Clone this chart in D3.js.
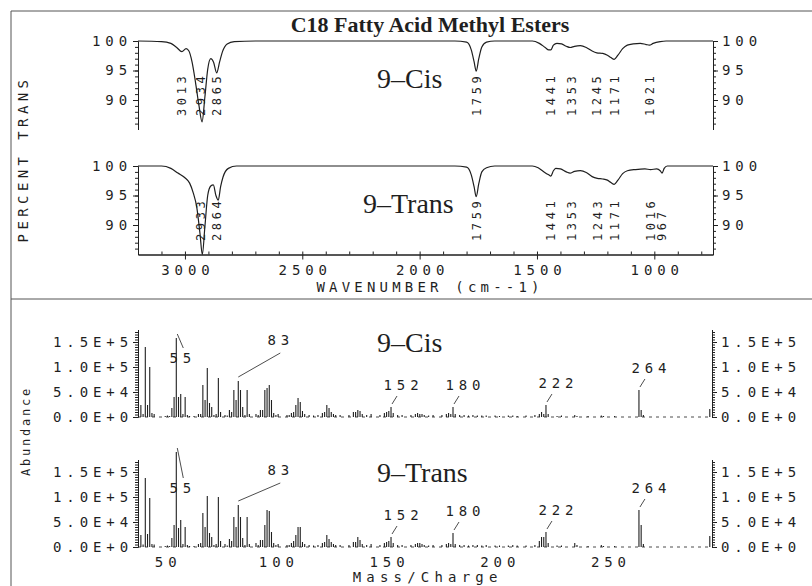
<!DOCTYPE html>
<html lang="en">
<head>
<meta charset="UTF-8">
<title>C18 Fatty Acid Methyl Esters</title>
<script src="https://cdnjs.cloudflare.com/ajax/libs/d3/7.8.5/d3.min.js"></script>
<style>
    body { margin: 0; background: #fff; }
    svg { display: block; }
</style>
</head>
<body>
<svg id="chart" width="812" height="586"></svg>
<script>
// ---- IR spectra (wavenumber, % transmittance) ----
const irCisWavenumber = [3200, 3100, 3060, 3035, 3013, 2995, 2983, 2970, 2955, 2940,
    2927, 2915, 2903, 2890, 2878, 2865, 2852, 2840, 2820, 2790,
    2700, 1850, 1800, 1780, 1768, 1759, 1748, 1735, 1715, 1680,
    1520, 1490, 1465, 1450, 1441, 1430, 1415, 1395, 1375, 1359,
    1340, 1315, 1290, 1265, 1245, 1220, 1200, 1185, 1171, 1155,
    1135, 1115, 1090, 1060, 1035, 1021, 1005, 975, 950, 750];
const irCisTransmittance = [100, 99.9, 99.6, 98.9, 98.2, 98.7, 98.3, 96.5, 93, 89,
    86.3, 90.5, 95.2, 97.0, 96.4, 94.6, 96.5, 98.2, 99.5, 99.9,
    100, 100, 99.8, 98.5, 96.5, 94.9, 97.0, 99.0, 99.8, 100,
    100, 99.6, 98.9, 98.5, 98.5, 99.3, 99.6, 99.5, 99.1, 98.9,
    99.1, 99.2, 98.9, 98.3, 98.0, 97.9, 97.6, 97.2, 96.9, 97.6,
    98.7, 99.3, 99.5, 99.6, 99.4, 99.3, 99.6, 99.9, 100, 100];

const irTransWavenumber = [3200, 3100, 3060, 3030, 3000, 2980, 2965, 2950, 2936, 2926,
    2915, 2903, 2890, 2879, 2868, 2858, 2848, 2838, 2815, 2780,
    1850, 1800, 1780, 1768, 1759, 1748, 1735, 1715, 1680, 1520,
    1495, 1470, 1450, 1441, 1430, 1420, 1400, 1375, 1359, 1340,
    1315, 1290, 1265, 1243, 1220, 1200, 1185, 1171, 1155, 1135,
    1115, 1080, 1040, 1016, 990, 975, 967, 958, 945, 750];
const irTransTransmittance = [100, 100, 99.6, 98.8, 98.0, 97.1, 95.5, 93.1, 88.6, 85.0,
    89.7, 95.0, 96.6, 96.8, 95.0, 94.2, 96.5, 98.1, 99.6, 100,
    100, 99.8, 98.5, 96.5, 94.8, 97.0, 99.0, 99.7, 100, 100,
    99.7, 99.0, 98.5, 98.3, 99.2, 99.6, 99.5, 99.0, 98.8, 99.1,
    99.2, 98.9, 98.2, 97.9, 97.8, 97.6, 97.2, 96.9, 97.6, 98.7,
    99.2, 99.4, 99.5, 99.4, 99.5, 99.2, 98.8, 99.6, 100, 100];

const irCisPeaks = [3013, 2934, 2865, 1759, 1441, 1353, 1245, 1171, 1021];
const irTransPeaks = [2933, 2864, 1759, 1441, 1353, 1243, 1171, 1016, 967];

const irYTicks = [90, 95, 100];
const irXTicks = [3000, 2500, 2000, 1500, 1000];

// ---- mass spectra (m/z, abundance) ----
const msMass = [39, 40, 41, 42, 43, 44, 45, 50, 51, 52,
    53, 54, 55, 56, 57, 58, 59, 60, 61, 63,
    65, 66, 67, 68, 69, 70, 71, 72, 73, 74,
    75, 77, 78, 79, 80, 81, 82, 83, 84, 85,
    86, 87, 88, 91, 92, 93, 94, 95, 96, 97,
    98, 99, 100, 101, 105, 106, 107, 108, 109, 110,
    111, 112, 113, 115, 117, 119, 121, 122, 123, 124,
    125, 126, 127, 129, 133, 135, 136, 137, 138, 139,
    141, 143, 147, 149, 150, 151, 152, 153, 155, 157,
    161, 163, 164, 165, 166, 167, 169, 171, 175, 177,
    178, 179, 180, 181, 183, 185, 187, 189, 191, 193,
    195, 199, 201, 205, 207, 209, 213, 217, 219, 220,
    221, 222, 223, 227, 229, 235, 236, 241, 247, 248,
    253, 264, 265, 266, 296];
const msCisAbundance = [24000, 6000, 140000, 24000, 100000, 8000, 6000, 2000, 3000, 2000,
    18000, 40000, 158000, 40000, 46000, 6000, 40000, 4000, 2000, 2000,
    6000, 6000, 64000, 34000, 98000, 28000, 20000, 4000, 6000, 78000,
    10000, 4000, 3000, 14000, 10000, 54000, 34000, 72000, 54000, 20000,
    4000, 54000, 6000, 6000, 4000, 14000, 14000, 54000, 58000, 64000,
    34000, 8000, 4000, 6000, 4000, 4000, 8000, 10000, 24000, 38000,
    30000, 12000, 6000, 4000, 3000, 4000, 8000, 10000, 24000, 18000,
    10000, 6000, 4000, 4000, 4000, 10000, 10000, 14000, 12000, 6000,
    4000, 6000, 4000, 8000, 10000, 12000, 20000, 8000, 4000, 4000,
    4000, 6000, 8000, 6000, 6000, 4000, 3000, 4000, 4000, 6000,
    8000, 6000, 20000, 6000, 4000, 4000, 3000, 4000, 3000, 3000,
    3000, 3000, 2000, 3000, 3000, 2000, 3000, 4000, 6000, 10000,
    6000, 24000, 6000, 2000, 3000, 4000, 2000, 2000, 3000, 2000,
    2000, 54000, 14000, 4000, 16000];
const msTransAbundance = [24000, 5000, 138000, 26000, 98000, 6000, 5000, 2000, 3000, 2000,
    18000, 44000, 190000, 38000, 54000, 6000, 40000, 4000, 2000, 2000,
    6000, 8000, 68000, 40000, 102000, 28000, 20000, 4000, 6000, 100000,
    12000, 6000, 3000, 16000, 12000, 60000, 40000, 84000, 60000, 18000,
    4000, 60000, 6000, 8000, 4000, 14000, 14000, 44000, 74000, 72000,
    30000, 8000, 4000, 6000, 4000, 4000, 8000, 12000, 24000, 40000,
    40000, 10000, 6000, 4000, 3000, 4000, 8000, 10000, 24000, 16000,
    10000, 6000, 4000, 4000, 4000, 10000, 10000, 20000, 14000, 6000,
    4000, 6000, 4000, 8000, 10000, 12000, 20000, 8000, 4000, 4000,
    4000, 6000, 8000, 8000, 6000, 4000, 3000, 4000, 4000, 6000,
    8000, 6000, 28000, 6000, 4000, 4000, 3000, 4000, 4000, 3000,
    4000, 3000, 3000, 3000, 4000, 3000, 3000, 4000, 12000, 20000,
    20000, 30000, 8000, 3000, 3000, 8000, 4000, 2000, 4000, 2000,
    2000, 74000, 44000, 6000, 22000];

const msLabelMasses = [55, 83, 152, 180, 222, 264];
const msYTicks = [0, 50000, 100000, 150000];
const msYTickLabels = ["0.0E+0", "5.0E+4", "1.0E+5", "1.5E+5"];
const msXTicks = [50, 100, 150, 200, 250];

// ---- drawing ----
const svg = d3.select("#chart");
const ink = "#1f1f1f";
const plotFont = "'DejaVu Sans Mono', monospace";
const serif = "'Liberation Serif', 'Times New Roman', serif";
const FS = 14;    // plotter font size
const SP = 4.9;   // plotter letter spacing

// page frame + divider
const frame = svg.append("g").attr("stroke", "#555").attr("stroke-width", 1);
frame.append("line").attr("x1", 11).attr("y1", 11).attr("x2", 812).attr("y2", 11);
frame.append("line").attr("x1", 11).attr("y1", 11).attr("x2", 11).attr("y2", 586);
frame.append("line").attr("x1", 11).attr("y1", 299).attr("x2", 812).attr("y2", 299);

svg.append("text")
    .attr("x", 430).attr("y", 32)
    .attr("text-anchor", "middle")
    .attr("font-family", serif).attr("font-weight", "bold").attr("font-size", 22)
    .attr("fill", ink)
    .text("C18 Fatty Acid Methyl Esters");

function styleAxis(g, size, spacing) {
    g.attr("font-family", plotFont).attr("font-size", size);
    g.selectAll("text").attr("fill", ink).attr("letter-spacing", spacing);
    g.selectAll("line, path").attr("stroke", ink);
}

function plotText(x, y, txt, size, spacing, anchor) {
    return svg.append("text")
        .attr("x", x).attr("y", y)
        .attr("text-anchor", anchor || "middle")
        .attr("dx", anchor === "start" ? 0 : spacing / 2)
        .attr("font-family", plotFont).attr("font-size", size)
        .attr("letter-spacing", spacing)
        .attr("fill", ink)
        .text(txt);
}

// ---- IR ----
const irX = d3.scaleLinear().domain([3200, 750]).range([138, 713]);

function drawIR(top, wn, tr, peaks, name, nameX, withXAxis) {
    const y = d3.scaleLinear().domain([85, 100]).range([top + 88.5, top]);
    const g = svg.append("g");

    // minor + major ticks, left and right
    g.append("g").attr("transform", "translate(138,0)")
        .call(d3.axisLeft(y).tickValues(d3.range(86, 100)).tickSize(3).tickFormat("").tickSizeOuter(0))
        .call(a => styleAxis(a, FS, SP));
    g.append("g").attr("transform", "translate(138,0)")
        .call(d3.axisLeft(y).tickValues(irYTicks).tickSize(5).tickPadding(1).tickSizeOuter(0))
        .call(a => styleAxis(a, FS, SP));
    g.append("g").attr("transform", "translate(713,0)")
        .call(d3.axisRight(y).tickValues(d3.range(86, 100)).tickSize(3).tickFormat("").tickSizeOuter(0))
        .call(a => styleAxis(a, FS, SP));
    g.append("g").attr("transform", "translate(713,0)")
        .call(d3.axisRight(y).tickValues(irYTicks).tickSize(5).tickPadding(4).tickSizeOuter(0))
        .call(a => styleAxis(a, FS, SP));

    if (withXAxis) {
        const base = y(85);
        g.append("g").attr("transform", `translate(0,${base})`)
            .call(d3.axisBottom(irX).tickValues(d3.range(800, 3200, 100)).tickSize(-3).tickFormat("").tickSizeOuter(0))
            .call(a => styleAxis(a, FS, SP));
        g.append("g").attr("transform", `translate(0,${base})`)
            .call(d3.axisBottom(irX).tickValues(irXTicks).tickSize(5).tickPadding(6)
                .tickFormat(d3.format("d")).tickSizeOuter(0))
            .call(a => styleAxis(a, FS, SP))
            .call(a => a.selectAll("text").attr("dx", SP / 2));
    }

    const pts = d3.zip(wn, tr);
    g.append("path")
        .datum(pts)
        .attr("fill", "none")
        .attr("stroke", ink)
        .attr("stroke-width", 1.2)
        .attr("d", d3.line().x(d => irX(d[0])).y(d => y(d[1])).curve(d3.curveMonotoneX));

    // rotated peak labels
    const yb = top + 75;
    g.selectAll("text.peak")
        .data(peaks)
        .join("text")
        .attr("class", "peak")
        .attr("transform", d => `translate(${irX(d)},${yb}) rotate(-90)`)
        .attr("dy", "0.36em")
        .attr("font-family", plotFont).attr("font-size", 12)
        .attr("letter-spacing", 3.6)
        .attr("fill", ink)
        .text(d => d);

    svg.append("text")
        .attr("x", nameX).attr("y", top + 47)
        .attr("font-family", serif).attr("font-size", 28)
        .attr("fill", ink)
        .text(name);
}

drawIR(41, irCisWavenumber, irCisTransmittance, irCisPeaks, "9–Cis", 377, false);
drawIR(166, irTransWavenumber, irTransTransmittance, irTransPeaks, "9–Trans", 363, true);

plotText(428, 292, "WAVENUMBER (cm--1)", FS, 4.2);
svg.append("text")
    .attr("transform", "translate(28,159) rotate(-90)")
    .attr("text-anchor", "middle")
    .attr("font-family", plotFont).attr("font-size", FS)
    .attr("letter-spacing", 4.4)
    .attr("fill", ink)
    .text("PERCENT TRANS");

// ---- MS ----
const msX = d3.scaleLinear().domain([37.7, 297]).range([138, 712]);

function drawMS(base, abund, name, nameX, withXAxis) {
    const y = d3.scaleLinear().domain([0, 175000]).range([base, base - 87.5]);
    const g = svg.append("g");

    g.append("g").attr("transform", "translate(138,0)")
        .call(d3.axisLeft(y).tickValues(d3.range(0, 175000, 5000)).tickSize(3).tickFormat("").tickSizeOuter(0))
        .call(a => styleAxis(a, FS, SP));
    g.append("g").attr("transform", "translate(138,0)")
        .call(d3.axisLeft(y).tickValues(msYTicks).tickSize(5).tickPadding(0).tickSizeOuter(0)
            .tickFormat((d, i) => msYTickLabels[i]))
        .call(a => styleAxis(a, FS, SP));
    g.append("g").attr("transform", "translate(712,0)")
        .call(d3.axisRight(y).tickValues(d3.range(0, 175000, 5000)).tickSize(3).tickFormat("").tickSizeOuter(0))
        .call(a => styleAxis(a, FS, SP));
    g.append("g").attr("transform", "translate(712,0)")
        .call(d3.axisRight(y).tickValues(msYTicks).tickSize(5).tickPadding(4).tickSizeOuter(0)
            .tickFormat((d, i) => msYTickLabels[i]))
        .call(a => styleAxis(a, FS, SP));

    // dotted baseline
    g.append("line")
        .attr("x1", msX.range()[0]).attr("x2", msX.range()[1])
        .attr("y1", y(0)).attr("y2", y(0))
        .attr("stroke", ink).attr("stroke-width", 0.8)
        .attr("stroke-dasharray", "3,4");

    if (withXAxis) {
        g.append("g").attr("transform", `translate(0,${y(0)})`)
            .call(d3.axisBottom(msX).tickValues(msXTicks).tickSize(0).tickPadding(10))
            .call(a => styleAxis(a, FS, SP))
            .call(a => a.select(".domain").remove())
            .call(a => a.selectAll("text").attr("dx", SP / 2));
    }

    const bars = d3.zip(msMass, abund);
    g.selectAll("line.bar")
        .data(bars)
        .join("line")
        .attr("class", "bar")
        .attr("x1", d => msX(d[0])).attr("x2", d => msX(d[0]))
        .attr("y1", y(0)).attr("y2", d => y(d[1]))
        .attr("stroke", ink).attr("stroke-width", 1.1);

    // peak annotations with leader lines
    msLabelMasses.forEach(m => {
        const v = abund[msMass.indexOf(m)];
        const x = msX(m), t = y(v);
        let lx, ly, x1, y1, x2, y2;
        if (m === 55) {
            lx = x + 4; ly = y(0) - 54;
            x1 = x + 1; y1 = t - 4; x2 = x + 7; y2 = ly - 15;
        } else if (m === 83) {
            lx = x + 40; ly = y(0) - 72;
            x1 = x; y1 = t - 4; x2 = x + 42; y2 = ly + 8;
        } else {
            lx = x + 10; ly = t - 17;
            x1 = x + 1; y1 = t - 3; x2 = x + 6; y2 = t - 11;
        }
        g.append("line")
            .attr("x1", x1).attr("y1", y1).attr("x2", x2).attr("y2", y2)
            .attr("stroke", ink).attr("stroke-width", 0.8);
        plotText(lx, ly, m, FS, SP);
    });

    svg.append("text")
        .attr("x", nameX).attr("y", base - 65)
        .attr("font-family", serif).attr("font-size", 28)
        .attr("fill", ink)
        .text(name);
}

drawMS(417, msCisAbundance, "9–Cis", 377, false);
drawMS(547, msTransAbundance, "9–Trans", 377, true);

plotText(425, 582, "Mass/Charge", FS, 5.2);
svg.append("text")
    .attr("transform", "translate(30,431) rotate(-90)")
    .attr("text-anchor", "middle")
    .attr("font-family", plotFont).attr("font-size", 12)
    .attr("letter-spacing", 2.8)
    .attr("fill", ink)
    .text("Abundance");
</script>
</body>
</html>
